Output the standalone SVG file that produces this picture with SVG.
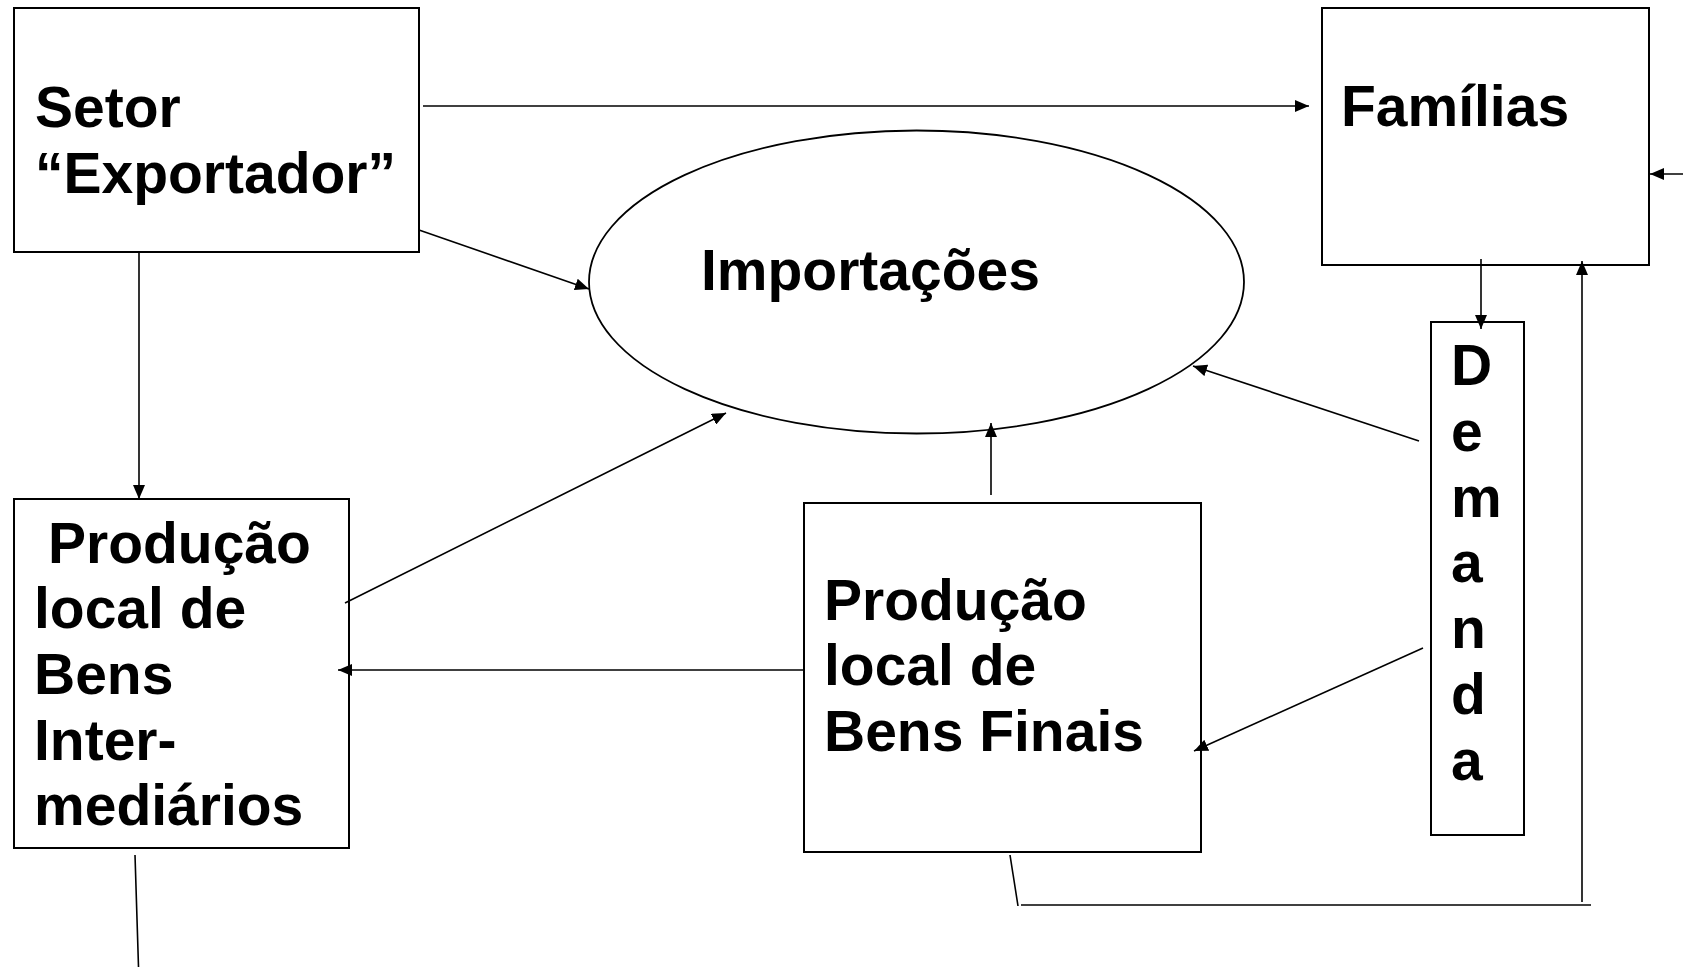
<svg xmlns="http://www.w3.org/2000/svg" width="1683" height="967" viewBox="0 0 1683 967">
<style>
.box{fill:#fff;stroke:#000;stroke-width:2}
.lbl{font-family:"Liberation Sans",Arial,sans-serif;font-weight:bold;font-size:57px;fill:#000}
.con{fill:none;stroke:#000;stroke-width:1.6}
</style>
<defs>
<marker id="ah" viewBox="0 0 14 12" refX="14" refY="6" markerWidth="14" markerHeight="12" markerUnits="userSpaceOnUse" orient="auto">
<path d="M0,0 L14,6 L0,12 z" fill="#000"/>
</marker>
</defs>
<rect width="1683" height="967" fill="#fff"/>
<g id="setor">
<rect class="box" x="14" y="8" width="405" height="244"/>
<text class="lbl" x="35" y="127">Setor</text>
<text class="lbl" x="35" y="193">“Exportador”</text>
</g>
<g id="familias">
<rect class="box" x="1322" y="8" width="327" height="257"/>
<text class="lbl" x="1341" y="126">Famílias</text>
</g>
<g id="importacoes">
<ellipse cx="916.5" cy="282" rx="327.5" ry="151.5" fill="#fff" stroke="#000" stroke-width="1.8"/>
<text class="lbl" x="701" y="290">Importações</text>
</g>
<g id="intermediarios">
<rect class="box" x="14" y="499" width="335" height="349"/>
<text class="lbl" x="48" y="563">Produção</text>
<text class="lbl" x="34" y="628">local de</text>
<text class="lbl" x="34" y="694">Bens</text>
<text class="lbl" x="34" y="760">Inter-</text>
<text class="lbl" x="34" y="825">mediários</text>
</g>
<g id="finais">
<rect class="box" x="804" y="503" width="397" height="349"/>
<text class="lbl" x="824" y="620">Produção</text>
<text class="lbl" x="824" y="685">local de</text>
<text class="lbl" x="824" y="751">Bens Finais</text>
</g>
<g id="demanda">
<rect class="box" x="1431" y="322" width="93" height="513"/>
<text class="lbl" x="1451" y="385">D</text>
<text class="lbl" x="1451" y="451">e</text>
<text class="lbl" x="1451" y="517">m</text>
<text class="lbl" x="1451" y="582">a</text>
<text class="lbl" x="1451" y="648">n</text>
<text class="lbl" x="1451" y="714">d</text>
<text class="lbl" x="1451" y="780">a</text>
</g>
<g id="connectors">
<line class="con" x1="423" y1="106" x2="1309" y2="106" marker-end="url(#ah)"/>
<line class="con" x1="419" y1="230" x2="589" y2="289" marker-end="url(#ah)"/>
<line class="con" x1="139" y1="252" x2="139" y2="499" marker-end="url(#ah)"/>
<line class="con" x1="345" y1="603" x2="726" y2="413" marker-end="url(#ah)"/>
<line class="con" x1="804" y1="670" x2="338" y2="670" marker-end="url(#ah)"/>
<line class="con" x1="135" y1="855" x2="138.5" y2="967"/>
<line class="con" x1="991" y1="495" x2="991" y2="423" marker-end="url(#ah)"/>
<line class="con" x1="1423" y1="648" x2="1194" y2="751" marker-end="url(#ah)"/>
<line class="con" x1="1419" y1="441" x2="1193" y2="366" marker-end="url(#ah)"/>
<line class="con" x1="1481" y1="259" x2="1481" y2="329" marker-end="url(#ah)"/>
<line class="con" x1="1010" y1="855" x2="1018" y2="906"/>
<line class="con" x1="1021" y1="905" x2="1591" y2="905"/>
<line class="con" x1="1582" y1="902" x2="1582" y2="261" marker-end="url(#ah)"/>
<line class="con" x1="1683" y1="174" x2="1650" y2="174" marker-end="url(#ah)"/>
</g>
</svg>
